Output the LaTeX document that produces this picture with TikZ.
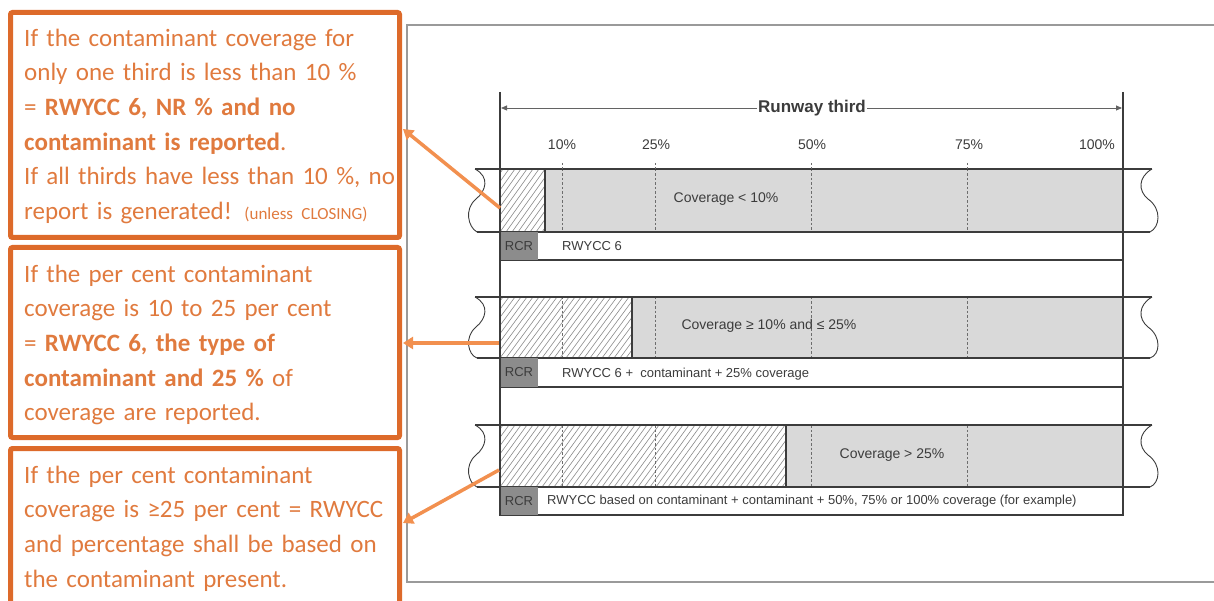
\documentclass[tikz,border=0pt]{standalone}
\usepackage{fontspec}
\setmainfont{Carlito}[WordSpace=0.8]
\newfontfamily\diagfont{Liberation Sans}
\usetikzlibrary{arrows.meta}

\definecolor{boxline}{HTML}{DD6A2A}
\definecolor{boxtext}{HTML}{E07A3E}
\definecolor{pointer}{HTML}{F2904F}
\definecolor{framegray}{HTML}{9A9A9A}
\definecolor{ink}{HTML}{3C3C3C}
\definecolor{stripfill}{HTML}{D9D9D9}
\definecolor{rcrfill}{HTML}{8C8C8C}
\definecolor{hatchgray}{HTML}{8A8A8A}

\begin{document}
\begin{tikzpicture}[x=1pt,y=-1pt,
  notebox/.style={draw=boxline, line width=5pt, rounded corners=2pt, inner sep=0pt},
  notetext/.style={anchor=north west, inner sep=0pt, text width=390pt, align=left,
    text=boxtext, font=\fontsize{25}{34.6}\selectfont},
  lbl/.style={font=\diagfont\fontsize{14}{16}\selectfont, text=ink, inner sep=0pt},
  rowtext/.style={font=\diagfont\fontsize{13}{15}\selectfont, text=ink, inner sep=0pt, anchor=west},
  stripline/.style={draw=ink, line width=1.1pt},
  guide/.style={draw=ink!75, line width=0.9pt, dash pattern=on 2.5pt off 2pt},
  hatchline/.style={draw=hatchgray, line width=0.6pt},
  pointerarrow/.style={draw=pointer, line width=3.5pt, -{Triangle[length=10pt,width=12pt]}},
  dimline/.style={draw=ink!80, line width=0.8pt,
    {Triangle[length=6pt,width=5pt]}-{Triangle[length=6pt,width=5pt]}},
]
\useasboundingbox (0,0) rectangle (1214,601);

% ---------- explanatory boxes ----------
\node[notebox, minimum width=389pt, minimum height=225pt] (b1) at (205,125) {};
\node[notebox, minimum width=389pt, minimum height=190pt] (b2) at (205,342.5) {};
\node[notebox, minimum width=389pt, minimum height=223pt] (b3) at (205,560) {};

\node[notetext] (t1) at (24,21.8) {\strut If the contaminant coverage for\\
only one third is less than 10 \%\\
= \textbf{RWYCC 6, NR \% and no}\\
\textbf{contaminant is reported}.\\
If all thirds have less than 10 \%, no\\
report is generated! {\fontsize{17}{20}\selectfont (unless CLOSING)}};

\node[notetext] (t2) at (24,257.8) {\strut If the per cent contaminant\\
coverage is 10 to 25 per cent\\
= \textbf{RWYCC 6, the type of}\\
\textbf{contaminant and 25 \%} of\\
coverage are reported.};

\node[notetext] (t3) at (24,458.8) {\strut If the per cent contaminant\\
coverage is ≥25 per cent = RWYCC\\
and percentage shall be based on\\
the contaminant present.};

% ---------- runway figure frame ----------
\draw[framegray, line width=1.3pt] (407,25) rectangle (1240,582);

% strips: top, bottom, report row bottom, end of covered part
\foreach \ytop/\ybot/\yrow/\xend [count=\i] in {169/232/260/545, 297/358/387/632, 425/487/515/786} {
  \fill[stripfill] (\xend,\ytop) rectangle (1123,\ybot);
  \begin{scope}
    \clip (500,\ytop) rectangle (\xend,\ybot);
    \foreach \k in {0,...,60}
      \draw[hatchline] ({446+6*\k},\ybot) -- ++(45,{\ytop-\ybot});
  \end{scope}
  \foreach \p in {10,25,50,75}
    \draw[guide] ({500+6.23*\p},\ytop) -- ({500+6.23*\p},\ybot);
  \draw[ink, line width=1.4pt] (\xend,\ytop) -- (\xend,\ybot);
  % runway edges and broken ends
  \draw[stripline] (475,\ytop) -- (1152,\ytop);
  \draw[stripline] (477,\ybot) -- (1150,\ybot);
  \draw[ink, line width=0.9pt] (475,\ytop)
    .. controls (490,\ytop+8) and (486,\ytop+22) .. (476,\ytop+30)
    .. controls (464,\ytop+40) and (468,\ytop+58) .. (477,\ybot);
  \draw[ink, line width=0.9pt] (1152,\ytop)
    .. controls (1138,\ytop+8) and (1138,\ytop+22) .. (1148,\ytop+30)
    .. controls (1162,\ytop+40) and (1160,\ytop+58) .. (1150,\ybot);
  % report row
  \draw[stripline, fill=white] (500,\ybot) rectangle (1123,\yrow);
  \fill[rcrfill] (500,\ybot) rectangle (538,\yrow);
  \node[lbl, font=\diagfont\fontsize{13}{15}\selectfont] (rcr\i) at (519,{(\ybot+\yrow)/2}) {RCR};
}

% guides above the first strip
\foreach \p in {10,25,50,75}
  \draw[guide] ({500+6.23*\p},163) -- ({500+6.23*\p},169);

% runway third limits
\coordinate (v0a) at (500,92);
\coordinate (v0b) at (500,515);
\coordinate (v1a) at (1123,92);
\coordinate (v1b) at (1123,515);
\draw[ink, line width=1.2pt] (v0a) -- (v0b);
\draw[ink, line width=1.2pt] (v1a) -- (v1b);

% dimension line
\coordinate (dimL) at (501,108);
\coordinate (dimR) at (1122,108);
\draw[dimline] (dimL) -- (dimR);
\node[fill=white, inner sep=1pt, text=ink, font=\diagfont\bfseries\fontsize{17}{19}\selectfont] (rt) at (812,108) {Runway third};

% percentage marks
\node[lbl] (p10) at (562,145) {10\%};
\node[lbl] (p25) at (656,145) {25\%};
\node[lbl] (p50) at (812,145) {50\%};
\node[lbl] (p75) at (969,145) {75\%};
\node[lbl] (p100) at (1097,145) {100\%};

% coverage labels
\node[lbl] (c1) at (726,199) {Coverage < 10\%};
\node[lbl] (c2) at (769,326) {Coverage ≥ 10\% and ≤ 25\%};
\node[lbl] (c3) at (892,455) {Coverage > 25\%};

% report texts
\node[rowtext] (r1) at (562,246) {RWYCC 6};
\node[rowtext] (r2) at (562,374) {RWYCC 6 +\ \ contaminant + 25\% coverage};
\node[rowtext] (r3) at (547,501) {RWYCC based on contaminant + contaminant + 50\%, 75\% or 100\% coverage (for example)};

% pointers from strips to boxes
\coordinate (s1) at (500,208);
\coordinate (s2) at (499,343);
\coordinate (s3) at (499,470);
\coordinate (h1) at (403,129);
\coordinate (h2) at (403,343);
\coordinate (h3) at (403,523);
\draw[pointerarrow] (s1) -- (h1);
\draw[pointerarrow] (s2) -- (h2);
\draw[pointerarrow] (s3) -- (h3);
\end{tikzpicture}
\end{document}
